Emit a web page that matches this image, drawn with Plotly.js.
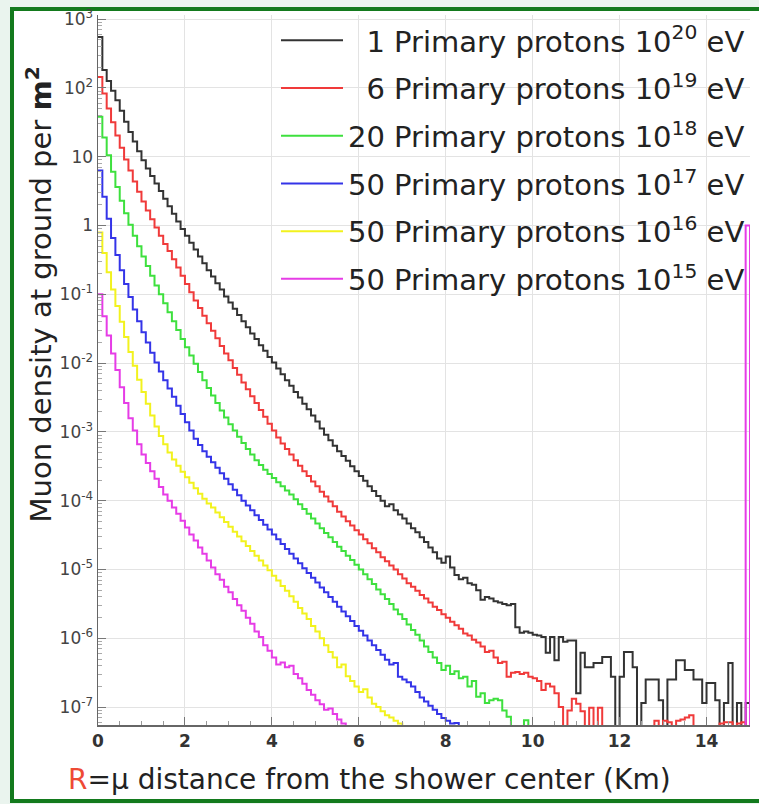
<!DOCTYPE html>
<html><head><meta charset="utf-8">
<script src="https://cdn.plot.ly/plotly-3.0.1.min.js"></script>
<style>
html,body{margin:0;padding:0;background:#eaf4ee;overflow:hidden;width:759px;height:804px;}
#frame{position:absolute;left:10px;top:7px;width:760px;height:788px;border:4px solid #137a1d;border-right:none;background:#fff;}
#chart{position:absolute;left:0;top:0;width:759px;height:804px;}
</style></head><body><div id="frame"></div><div id="chart"></div>
<script>
// Histogram bins of 0.1 km starting at R = 0; values are log10(muon density per m^2); null = empty bin
const binWidthKm = 0.1;

const seriesNames = [
  "\u00a0\u00a01 Primary protons 10<sup>20</sup> eV",
  "\u00a0\u00a06 Primary protons 10<sup>19</sup> eV",
  "20 Primary protons 10<sup>18</sup> eV",
  "50 Primary protons 10<sup>17</sup> eV",
  "50 Primary protons 10<sup>16</sup> eV",
  "50 Primary protons 10<sup>15</sup> eV"
];
const seriesColors = ["#333333", "#f03a3a", "#3ee03e", "#3434e8", "#f2f21e", "#e63ce6"];

const black1e20Log10 = [2.74,2.26,2.10,1.96,1.82,1.67,1.51,1.36,1.22,1.08,
 0.95,0.83,0.72,0.61,0.50,0.39,0.28,0.17,0.06,-0.05,
 -0.15,-0.25,-0.35,-0.45,-0.55,-0.65,-0.74,-0.84,-0.93,-1.03,
 -1.12,-1.21,-1.30,-1.39,-1.48,-1.57,-1.65,-1.74,-1.82,-1.91,
 -1.99,-2.08,-2.16,-2.25,-2.33,-2.42,-2.50,-2.59,-2.67,-2.76,
 -2.85,-2.95,-3.04,-3.12,-3.20,-3.28,-3.35,-3.42,-3.50,-3.57,
 -3.64,-3.71,-3.79,-3.86,-3.93,-4.00,-4.08,-4.05,-4.14,-4.20,
 -4.26,-4.33,-4.40,-4.46,-4.53,-4.60,-4.68,-4.75,-4.84,-4.90,
 -4.81,-4.97,-5.08,-5.14,-5.12,-5.20,-5.22,-5.30,-5.44,-5.40,
 -5.42,-5.46,-5.48,-5.50,-5.52,-5.50,-5.84,-5.92,-5.90,-5.92,
 -5.95,-5.96,-5.98,-6.21,-5.98,-6.32,-5.98,-6.05,-6.03,-6.03,
 -6.80,-6.21,-6.42,-6.42,-6.36,-6.36,-6.27,-6.27,-6.56,null,
 -6.56,-6.20,-6.20,-6.42,null,-6.94,-6.60,-6.60,-6.60,-6.90,
 null,-6.60,-6.60,-6.32,-6.32,-6.46,-6.46,-6.60,-6.60,-6.94,
 -6.65,-6.65,-6.90,null,-6.94,-6.36,null,-6.94,null,-6.94];

const red1e19Log10 = [2.16,1.92,1.70,1.50,1.31,1.13,0.96,0.80,0.64,0.49,
 0.35,0.22,0.09,-0.03,-0.15,-0.27,-0.37,-0.49,-0.61,-0.73,
 -0.85,-0.97,-1.09,-1.20,-1.31,-1.42,-1.53,-1.64,-1.75,-1.86,
 -1.96,-2.07,-2.17,-2.28,-2.38,-2.48,-2.58,-2.68,-2.78,-2.88,
 -2.98,-3.08,-3.17,-3.25,-3.33,-3.41,-3.49,-3.57,-3.64,-3.72,
 -3.79,-3.87,-3.94,-4.01,-4.08,-4.16,-4.23,-4.30,-4.36,-4.43,
 -4.49,-4.56,-4.62,-4.69,-4.75,-4.82,-4.88,-4.94,-5.00,-5.07,
 -5.13,-5.20,-5.25,-5.31,-5.37,-5.42,-5.48,-5.54,-5.59,-5.65,
 -5.70,-5.76,-5.81,-5.86,-5.93,-5.96,-6.02,-6.06,-6.12,-6.20,
 -6.18,-6.28,-6.36,-6.34,-6.56,-6.50,-6.49,-6.52,-6.50,-6.56,
 -6.58,-6.62,-6.75,-6.66,-6.70,-6.80,-7.00,null,-7.05,-6.88,
 -6.95,-7.06,null,-7.01,null,-7.01,null,null,null,null,
 null,null,null,null,null,null,null,null,-7.20,null,
 -7.20,-7.22,null,-7.20,-7.18,-7.15,-7.12,null,null,null,
 null,null,null,-7.24,-7.22,-7.22,null,-7.24,-7.22,null];

const green1e18Log10 = [1.58,1.28,1.02,0.78,0.56,0.36,0.18,0.01,-0.15,-0.30,
 -0.45,-0.59,-0.73,-0.87,-1.00,-1.13,-1.26,-1.39,-1.52,-1.65,
 -1.77,-1.89,-2.01,-2.13,-2.25,-2.36,-2.47,-2.58,-2.69,-2.79,
 -2.89,-2.98,-3.07,-3.16,-3.25,-3.33,-3.41,-3.48,-3.55,-3.61,
 -3.67,-3.73,-3.79,-3.85,-3.91,-3.98,-4.05,-4.12,-4.19,-4.26,
 -4.33,-4.40,-4.47,-4.53,-4.60,-4.67,-4.73,-4.80,-4.86,-4.93,
 -5.00,-5.07,-5.14,-5.21,-5.29,-5.36,-5.43,-5.50,-5.58,-5.65,
 -5.72,-5.80,-5.88,-5.95,-6.03,-6.12,-6.20,-6.28,-6.36,-6.46,
 -6.40,-6.52,-6.48,-6.58,-6.56,-6.70,-6.62,-6.85,-6.80,-6.94,
 -6.90,-6.88,-6.90,-7.05,-7.14,null,null,null,-7.19];

const blue1e17Log10 = [0.80,0.42,0.10,-0.18,-0.43,-0.65,-0.85,-1.04,-1.22,-1.39,
 -1.55,-1.70,-1.85,-1.99,-2.12,-2.25,-2.37,-2.49,-2.62,-2.74,
 -2.86,-2.98,-3.10,-3.19,-3.28,-3.36,-3.44,-3.52,-3.60,-3.68,
 -3.76,-3.84,-3.92,-4.00,-4.07,-4.14,-4.21,-4.28,-4.35,-4.42,
 -4.49,-4.56,-4.63,-4.70,-4.77,-4.84,-4.91,-4.98,-5.05,-5.12,
 -5.19,-5.26,-5.33,-5.40,-5.47,-5.54,-5.61,-5.68,-5.75,-5.82,
 -5.89,-5.96,-6.03,-6.10,-6.17,-6.24,-6.31,-6.38,-6.36,-6.56,
 -6.60,-6.64,-6.70,-6.78,-6.86,-6.92,-6.98,-7.04,-7.10,-7.16,
 -7.20,-7.24,-7.23,-7.30];

const yellow1e16Log10 = [-0.10,-0.40,-0.68,-0.93,-1.17,-1.40,-1.62,-1.84,-2.04,-2.24,
 -2.42,-2.59,-2.76,-2.92,-3.06,-3.18,-3.30,-3.40,-3.49,-3.58,
 -3.66,-3.74,-3.82,-3.90,-3.97,-4.04,-4.10,-4.17,-4.24,-4.31,
 -4.38,-4.45,-4.52,-4.59,-4.66,-4.73,-4.80,-4.87,-4.94,-5.01,
 -5.09,-5.16,-5.24,-5.31,-5.39,-5.47,-5.56,-5.64,-5.72,-5.82,
 -5.90,-6.00,-6.10,-6.20,-6.28,-6.42,-6.38,-6.55,-6.62,-6.70,
 -6.78,-6.74,-6.86,-6.95,-7.00,-7.06,-7.12,-7.15,-7.20,-7.24,
 -7.35];

const magenta1e15Log10 = [-1.00,-1.32,-1.60,-1.86,-2.10,-2.35,-2.58,-2.80,-2.98,-3.18,
 -3.33,-3.45,-3.57,-3.68,-3.80,-3.91,-4.00,-4.10,-4.19,-4.29,
 -4.39,-4.49,-4.58,-4.68,-4.77,-4.87,-4.97,-5.07,-5.15,-5.25,
 -5.33,-5.43,-5.52,-5.60,-5.70,-5.79,-5.90,-5.98,-6.10,-6.18,
 -6.28,-6.38,-6.35,-6.42,-6.40,-6.52,-6.58,-6.66,-6.75,-6.82,
 -6.90,-6.96,-7.04,-7.02,-7.10,-7.18,-7.24];
// last bin (14.9-15.0 km) of the 10^15 histogram
const magentaLastBinIndex = 149;
const magentaLastBinLog10 = 0.0;

const xTickVals = [0, 2, 4, 6, 8, 10, 12, 14];
const yTickVals = [1e-7, 1e-6, 1e-5, 1e-4, 1e-3, 1e-2, 1e-1, 1, 10, 1e2, 1e3];
const yTickText = ["10<sup>-7</sup>","10<sup>-6</sup>","10<sup>-5</sup>","10<sup>-4</sup>","10<sup>-3</sup>","10<sup>-2</sup>","10<sup>-1</sup>","1","10","10<sup>2</sup>","10<sup>3</sup>"];

const FLOOR = 1e-14; // empty bin: drawn below the axis like a ROOT histogram

function stepXY(logs, startIndex) {
  const xs = [], ys = [];
  logs.forEach((v, k) => {
    xs.push((startIndex + k) * binWidthKm);
    ys.push(v === null ? FLOOR : Math.pow(10, v));
  });
  const end = (startIndex + logs.length) * binWidthKm;
  xs.push(end); ys.push(ys[ys.length - 1]);
  xs.push(end); ys.push(FLOOR);
  return [xs, ys];
}

const allSeries = [black1e20Log10, red1e19Log10, green1e18Log10, blue1e17Log10, yellow1e16Log10, magenta1e15Log10];
const traces = allSeries.map((logs, s) => {
  let [xs, ys] = stepXY(logs, 0);
  if (s === 5) {
    const [x2, y2] = stepXY([magentaLastBinLog10], magentaLastBinIndex);
    xs = xs.concat(x2); ys = ys.concat(y2);
  }
  return {
    type: "scatter", mode: "lines", x: xs, y: ys,
    name: seriesNames[s], legendgroup: "g" + s,
    line: {color: seriesColors[s], width: 2, shape: "hv"},
    hoverinfo: "skip"
  };
});

const FONT = "DejaVu Sans, sans-serif";
const layout = {
  width: 759, height: 804,
  margin: {l: 98, r: 9, t: 15, b: 79},
  paper_bgcolor: "rgba(0,0,0,0)",
  plot_bgcolor: "#ffffff",
  showlegend: true,
  legend: {
    x: 1, xanchor: "right", y: 1, yanchor: "top",
    bgcolor: "rgba(0,0,0,0)", borderwidth: 0,
    font: {family: FONT, size: 29, color: "#222"},
    itemwidth: 62, tracegroupgap: 7
  },
  xaxis: {
    range: [0, 15], tickmode: "array", tickvals: xTickVals,
    ticks: "inside", ticklen: 8, tickcolor: "#777", tickwidth: 1,
    minor: {dtick: 0.5, ticks: "inside", ticklen: 4, tickcolor: "#999", showgrid: false},
    showgrid: true, gridcolor: "#e3e3e3", gridwidth: 1,
    showline: true, linecolor: "#666", linewidth: 1.5, zeroline: false,
    tickfont: {family: FONT, size: 17, color: "#333", weight: "bold"}
  },
  yaxis: {
    type: "log", range: [-7.26, 3.06], tickmode: "array",
    tickvals: yTickVals, ticktext: yTickText,
    ticks: "inside", ticklen: 8, tickcolor: "#777",
    minor: {dtick: "D1", ticks: "inside", ticklen: 4, tickcolor: "#aaa", showgrid: false},
    showgrid: true, gridcolor: "#e3e3e3", gridwidth: 1,
    showline: true, linecolor: "#666", linewidth: 1.5, zeroline: false,
    tickfont: {family: FONT, size: 17, color: "#444"}
  },
  annotations: [
    {text: '<span style="color:#ee4a35">R</span>=\u03bc distance from the shower center (Km)',
     xref: "paper", yref: "paper", x: 0.416, y: -0.077, xanchor: "center", yanchor: "middle",
     showarrow: false, font: {family: FONT, size: 28, color: "#222"}},
    {text: 'Muon density at ground per <b>m<sup>2</sup></b>',
     xref: "paper", yref: "paper", x: -0.091, y: 0.606, xanchor: "center", yanchor: "middle",
     textangle: -90, showarrow: false, font: {family: FONT, size: 29, color: "#222"}}
  ]
};

Plotly.newPlot("chart", traces, layout, {displayModeBar: false, staticPlot: true});
</script>
</body></html>
